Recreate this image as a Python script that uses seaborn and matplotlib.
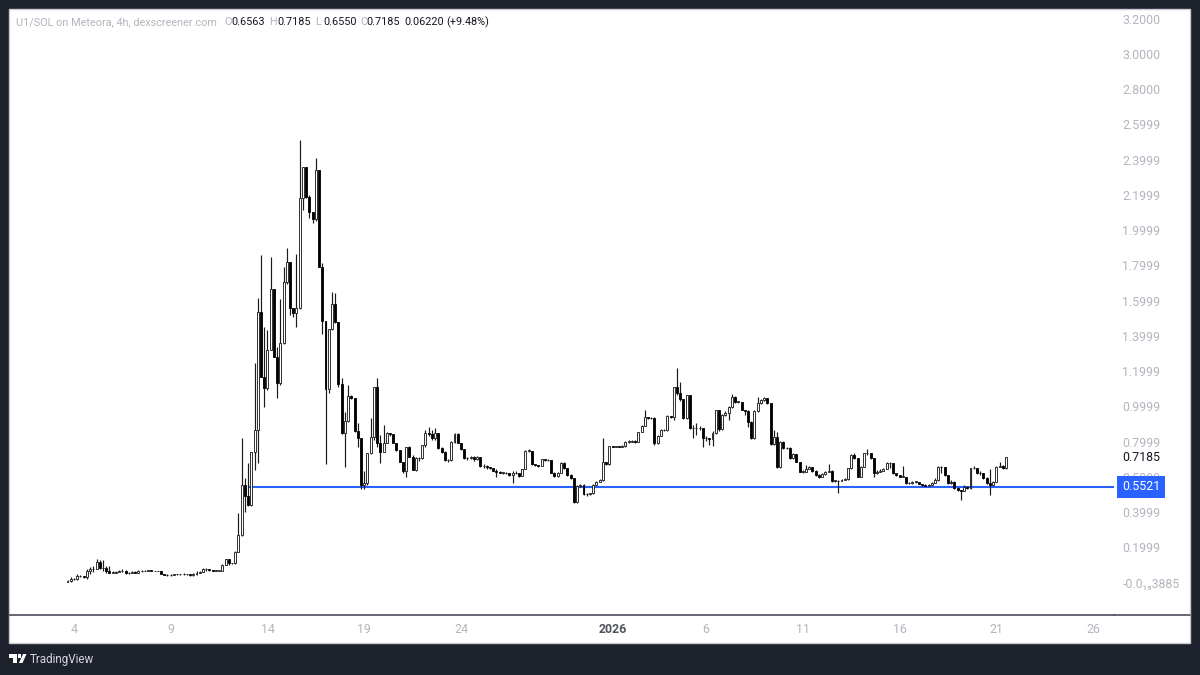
import numpy as np
import pandas as pd
import seaborn as sns
import matplotlib
matplotlib.use("Agg")
import matplotlib.pyplot as plt
from matplotlib.patches import Rectangle, Polygon, Circle
from matplotlib.lines import Line2D

first_open = 0.012
closes = [
 .017,.026,.026,.045,.045,.038,.075,.083,.083,.126,.089,.089,.075,.064,.064,.070,.074,.076,.060,.064,
 .070,.064,.074,.074,.076,.077,.074,.074,.072,.058,.053,.051,.053,.055,.055,.055,.055,.055,.049,.055,
 .064,.068,.083,.083,.079,.075,.075,.075,.108,.140,.117,.117,.183,.278,.562,
 .500,.450,.751,.874,1.546,1.177,1.110,1.328,1.672,1.290,1.139,1.366,1.716,1.826,1.568,1.536,1.568,2.193,2.369,2.198,
 2.113,2.070,2.350,1.801,1.494,1.105,1.445,1.589,1.485,1.135,.859,.927,1.067,1.054,.868,.827,.562,.575,.745,.832,1.120,.800,
 .751,.802,.855,.850,.802,.761,.694,.640,.780,.723,.647,.713,.713,.789,.855,.850,.827,.855,.770,.751,
 .704,.704,.808,.850,.802,.764,.713,.713,.719,.707,.719,.670,.670,.662,.656,.643,.637,.632,.632,.628,
 .619,.628,.632,.613,.651,.757,.757,.679,.675,.670,.707,.704,.704,.632,.613,.632,.689,.656,.619,.600,
 .467,.556,.562,.511,.509,.515,.562,.581,.590,.694,.679,.783,.780,.780,
 .779,.783,.808,.808,.813,.808,.865,.897,.946,.940,.940,.798,.840,.874,.874,.955,.946,1.120,1.082,1.048,
 .940,1.073,.884,.884,.884,.884,.827,.827,.821,.859,.988,.878,.959,.969,1.006,1.063,1.035,1.035,.988,.984,
 .921,.827,.984,1.025,1.044,1.054,1.025,.795,.836,.666,.808,.770,.770,.713,.738,.694,.638,.638,.651,.662,
 .643,.619,.609,.624,.638,.643,.586,.586,.585,
 .590,.594,.656,.732,.713,.609,.666,.742,.742,.713,.628,.637,.643,.651,.685,.685,.628,.619,.609,.609,
 .575,.571,.581,.581,.568,.562,.558,.562,.575,.590,.666,.662,.619,.571,.581,.543,.533,.528,.552,.543,
 .656,.656,.628,.628,.600,.571,.562,.581,.666,.670,.656,.7185,
]
highs = [
 .022,.038,.032,.055,.053,.047,.083,.094,.102,.140,.136,.136,.102,.102,.072,.075,.080,.085,.082,.070,
 .074,.072,.078,.077,.082,.079,.078,.076,.075,.072,.058,.055,.055,.057,.058,.058,.060,.059,.056,.060,
 .072,.075,.090,.092,.083,.079,.077,.076,.112,.142,.140,.122,.185,.405,.827,
 .600,.689,.751,1.252,1.625,1.867,1.460,1.441,1.854,1.672,1.347,1.616,1.801,1.905,1.830,1.568,1.873,2.520,2.369,2.369,
 2.208,2.113,2.420,2.350,1.824,1.494,1.445,1.659,1.650,1.485,1.167,.978,1.129,1.070,1.054,.912,.827,.640,.745,.940,1.120,1.167,
 .846,.902,.860,.855,.850,.800,.760,.690,.780,.785,.730,.720,.720,.790,.874,.893,.874,.883,.855,.775,
 .755,.710,.810,.855,.855,.800,.765,.720,.725,.725,.725,.715,.680,.675,.665,.660,.650,.640,.638,.635,
 .632,.640,.640,.632,.655,.760,.765,.757,.682,.678,.710,.710,.708,.704,.635,.635,.692,.692,.660,.622,
 .600,.560,.570,.565,.515,.518,.565,.585,.595,.827,.695,.785,.785,.785,
 .785,.790,.810,.815,.820,.815,.865,.900,.988,.950,.945,.946,.845,.880,.880,.957,.955,1.120,1.224,1.148,
 1.048,1.073,1.073,.900,.912,.895,.880,.840,.830,.870,.990,.988,.965,.980,1.010,1.076,1.065,1.040,1.035,.990,
 .985,.925,.985,1.060,1.050,1.060,1.055,1.025,.874,.860,.810,.810,.775,.775,.745,.740,.695,.645,.675,.668,
 .665,.645,.625,.630,.640,.680,.645,.590,.590,
 .595,.600,.660,.735,.745,.715,.670,.745,.764,.745,.715,.645,.650,.660,.690,.690,.685,.630,.620,.670,
 .610,.578,.585,.585,.580,.570,.565,.565,.580,.600,.670,.670,.665,.620,.590,.582,.545,.535,.560,.555,
 .660,.670,.660,.640,.630,.605,.654,.585,.670,.690,.675,.7185,
]
lows = [
 .011,.013,.022,.022,.038,.036,.030,.056,.070,.089,.083,.075,.064,.060,.060,.062,.066,.070,.056,.058,
 .062,.060,.062,.070,.072,.075,.072,.072,.071,.055,.050,.048,.047,.050,.053,.052,.052,.052,.046,.048,
 .050,.060,.066,.075,.075,.073,.074,.073,.074,.106,.110,.112,.115,.180,.270,
 .410,.445,.445,.647,.689,1.177,1.006,1.100,1.328,1.290,1.054,1.130,1.360,1.700,1.527,1.517,1.457,1.560,2.123,2.190,
 2.075,2.051,2.060,1.800,1.417,.679,1.082,1.440,1.480,1.116,.850,.666,.920,1.050,.865,.776,.537,.537,.560,.740,.820,.780,
 .685,.750,.800,.840,.800,.755,.690,.630,.605,.720,.645,.640,.700,.710,.780,.840,.820,.820,.765,.745,
 .700,.695,.700,.800,.800,.760,.710,.705,.710,.700,.705,.665,.660,.655,.650,.640,.605,.628,.625,.622,
 .612,.571,.622,.610,.612,.650,.750,.675,.668,.665,.670,.698,.698,.628,.608,.610,.630,.650,.615,.595,
 .462,.462,.550,.505,.500,.505,.512,.560,.578,.585,.675,.675,.775,.775,
 .775,.775,.780,.800,.805,.800,.805,.860,.895,.935,.935,.789,.795,.840,.870,.870,.940,.930,1.070,1.040,
 .935,.935,.880,.830,.846,.875,.775,.810,.790,.785,.850,.870,.875,.955,.930,1.000,1.030,1.030,.985,.960,
 .890,.825,.825,.975,1.020,1.040,1.020,.790,.790,.660,.660,.765,.765,.710,.710,.690,.635,.632,.640,.650,
 .635,.612,.600,.605,.620,.635,.580,.580,.515,
 .585,.588,.590,.650,.710,.605,.605,.662,.730,.710,.609,.625,.635,.640,.650,.660,.625,.615,.605,.605,
 .570,.568,.570,.572,.565,.558,.555,.555,.560,.575,.585,.630,.615,.565,.565,.540,.530,.477,.525,.540,
 .540,.650,.625,.620,.595,.565,.505,.555,.580,.662,.650,.655,
]
support = 0.5521
last_price = 0.7185
price_ticks = [3.2, 3.0, 2.8, 2.6, 2.4, 2.2, 2.0, 1.8, 1.6, 1.4, 1.2, 1.0, 0.8, 0.6, 0.4, 0.2, 0.0]
price_labels = ["3.2000","3.0000","2.8000","2.5999","2.3999","2.1999","1.9999","1.7999","1.5999",
                "1.3999","1.1999","0.9999","0.7999","0.5999","0.3999","0.1999","-0.0₁₅3885"]
time_ticks = [2, 32, 62, 92, 122, 169, 198, 228, 258, 288, 318]
time_labels = ["4", "9", "14", "19", "24", "2026", "6", "11", "16", "21", "26"]

n = min(len(closes), len(highs), len(lows))
closes, highs, lows = map(np.array, (closes[:n], highs[:n], lows[:n]))
opens = np.r_[first_open, closes[:-1]]
bars = np.arange(n)
wicks = pd.DataFrame({"bar": np.r_[bars, bars], "price": np.r_[highs, lows]})

sns.set_theme(style="white")
FONT = ["Roboto", "DejaVu Sans"]
plt.rcParams["font.family"] = FONT
DARK, GREY, INK = "#1c212c", "#b2b5be", "#131722"
W, H = 1200, 675
fig = plt.figure(figsize=(12, 6.75), dpi=100, facecolor=DARK)
fx = lambda p: p / W
fy = lambda p: 1 - p / H
fig.add_artist(Rectangle((fx(9), fy(643)), 1181 / W, 634 / H, transform=fig.transFigure,
                         fc="white", ec="#c9cbd1", lw=1, zorder=0))
ax = fig.add_axes([fx(9.5), fy(615), (1114 - 9.5) / W, (615 - 9.5) / H])
ax.patch.set_alpha(0)
ax.set_xlim((9.5 - 67.5) / 3.225, (1114 - 67.5) / 3.225)
ax.set_ylim((584 - 615) / 176.2, (584 - 9.5) / 176.2)

ax.hlines(support, 56, ax.get_xlim()[1], color="#2962ff", lw=1.5, zorder=1)
sns.lineplot(data=wicks, x="bar", y="price", units="bar", estimator=None, color="#1a1a1a",
             lw=0.85, ax=ax, legend=False, zorder=2, solid_capstyle="butt")
up = closes >= opens
ax.bar(bars[up], np.maximum(closes[up] - opens[up], 0.002), bottom=opens[up], width=0.62,
       fc="white", ec="#222222", lw=0.65, zorder=3)
ax.bar(bars[~up], np.maximum(opens[~up] - closes[~up], 0.002), bottom=closes[~up], width=0.62,
       fc="black", ec="black", lw=0.6, zorder=3)

ax.set_xlabel(""); ax.set_ylabel("")
for s in ("top", "left", "right"):
    ax.spines[s].set_visible(False)
ax.spines["bottom"].set_color("#4a4e5c")
ax.spines["bottom"].set_linewidth(1.2)
fig.add_artist(Line2D([fx(1114), fx(1190)], [fy(615), fy(615)], color="#4a4e5c", lw=1.2))

ax.yaxis.tick_right()
ax.set_yticks(price_ticks, price_labels)
ax.set_xticks(time_ticks, time_labels)
ax.tick_params(axis="y", length=0, pad=6, labelsize=8.9, labelcolor=GREY)
ax.tick_params(axis="x", length=0, pad=6, labelsize=8.9, labelcolor=GREY)
for lab in ax.get_xticklabels():
    if lab.get_text() == "2026":
        lab.set_fontweight("bold")
        lab.set_color("#50535e")
for lab in ax.get_yticklabels():
    lab.set_y(lab.get_position()[1])
    lab.set_verticalalignment("center")

ytr = ax.get_yaxis_transform()
ax.annotate(f"{last_price:.4f}", xy=(1, last_price), xycoords=ytr, xytext=(8, 0),
            textcoords="offset pixels", va="center", ha="left", fontsize=8.9, color=INK,
            annotation_clip=False, zorder=10)
ax.annotate(f"{support:.4f}", xy=(1, support), xycoords=ytr, xytext=(8, 0),
            textcoords="offset pixels", va="center", ha="left", fontsize=8.9, color="white",
            annotation_clip=False, zorder=10,
            bbox=dict(boxstyle="square,pad=0.38", fc="#2962ff", ec="#2962ff", lw=0))

header = [(16, "U1/SOL on Meteora, 4h, dexscreener.com", GREY), (224, "O", GREY), (231, "0.6563", INK),
          (269, "H", GREY), (277, "0.7185", INK), (315, "L", GREY), (323, "0.6550", INK),
          (360, "C", GREY), (366, "0.7185", INK), (404, "0.06220", INK), (446, "(+9.48%)", INK)]
for x, s, c in header:
    fig.text(fx(x), fy(22), s, color=c, fontsize=7.85, va="center", ha="left")

# TradingView mark
fig.add_artist(Polygon([(fx(9), fy(654)), (fx(17), fy(654)), (fx(17), fy(663)), (fx(13), fy(663)),
                        (fx(13), fy(658)), (fx(9), fy(658))],
                       transform=fig.transFigure, fc="white", lw=0))
fig.add_artist(Polygon([(fx(19), fy(663)), (fx(22.5), fy(663)), (fx(26.5), fy(654)), (fx(23), fy(654))],
                       transform=fig.transFigure, fc="white", lw=0))
fig.add_artist(Rectangle((fx(18), fy(658)), 3 / W, 4 / H, transform=fig.transFigure, fc="white", lw=0))
fig.text(fx(30), fy(659), "TradingView", color="#d6d8de", fontsize=8.4, va="center", ha="left")

fig.savefig("out.png", dpi=100, facecolor=DARK)
